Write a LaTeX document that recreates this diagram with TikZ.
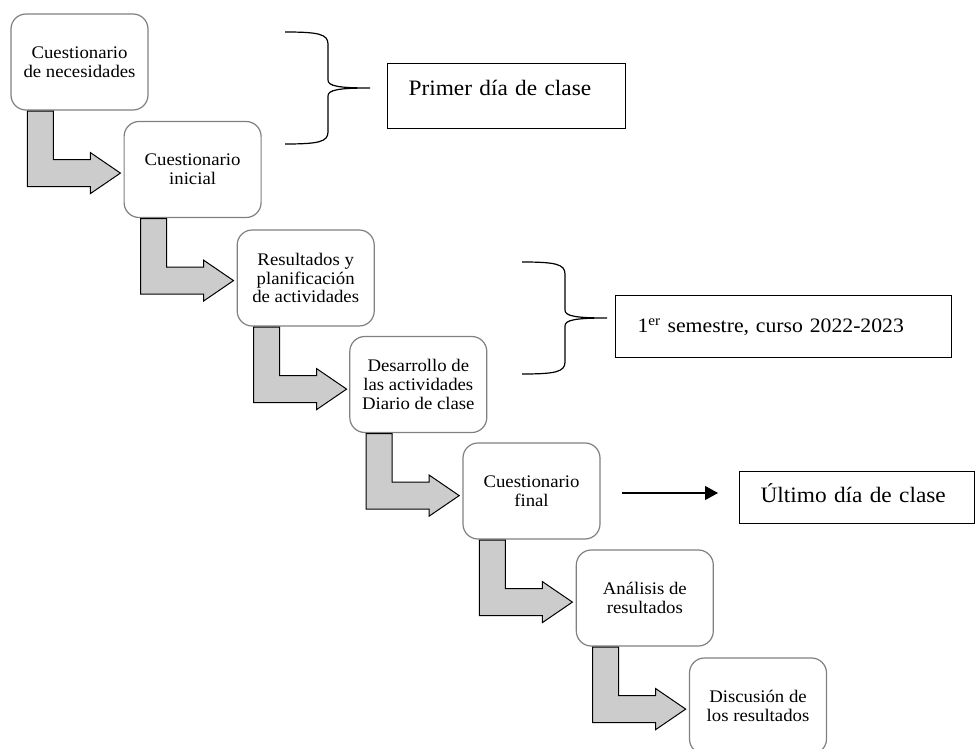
\documentclass[tikz,border=0pt]{standalone}
\usepackage{fontspec}
\setmainfont{Liberation Serif}[FakeStretch=1.06]
\usetikzlibrary{arrows.meta,calc}
\definecolor{boxline}{RGB}{128,128,128}
\definecolor{arrowfill}{RGB}{204,204,204}

% bent block arrow hanging from the bottom-left of a step box
\newcommand\bentarrow[1]{%
  \draw[bent] ($(#1.south west)+(17,0.5)$) -- ++(26,0) -- ++(0,48.5) -- ++(37,0)
    -- ++(0,-7) -- ++(30,20.5) -- ++(-30,20.5) -- ++(0,-7) -- ++(-63,0) -- cycle;}

% curly bracket opening to the right; top end at (0,0) of the current frame
\newcommand\curlybracket{%
  \draw[bracket] (0,0) .. controls (33,0) and (43,2) .. (43,12) -- (43,48)
    .. controls (43,54) and (53,56) .. (85,56)
    .. controls (53,56) and (43,58) .. (43,64) -- (43,100)
    .. controls (43,110) and (33,112) .. (0,112);}

\begin{document}
\begin{tikzpicture}[x=1pt,y=-1pt,
  stepbox/.style={draw=boxline, line width=1.2pt, fill=white, rounded corners=15pt,
    minimum width=137pt, minimum height=96pt, align=center, inner sep=0pt,
    font=\fontsize{17.7}{18.6}\selectfont},
  labelbox/.style={draw=black, line width=1.2pt, anchor=north west, align=left,
    inner ysep=0pt},
  bent/.style={draw=black, line width=1pt, fill=arrowfill, line join=miter},
  bracket/.style={draw=black, line width=1.2pt},
  pointer/.style={draw=black, line width=1.2pt, -{Triangle[length=13pt,width=14pt]}},
]
\useasboundingbox (0,0) rectangle (975,749);

% process steps
\node[stepbox] (s1) at (79.5,62)    {Cuestionario\\de necesidades};
\node[stepbox] (s2) at (192.6,169.5) {Cuestionario\\inicial};
\node[stepbox] (s3) at (305.7,278)  {Resultados y\\planificación\\de actividades};
\node[stepbox] (s4) at (418.3,384.5) {Desarrollo de\\las actividades\\Diario de clase};
\node[stepbox] (s5) at (531.5,491)  {Cuestionario\\final};
\node[stepbox] (s6) at (644.8,598)  {Análisis de\\resultados};
\node[stepbox] (s7) at (758,706)    {Discusión de\\los resultados};

% block arrows between consecutive steps
\bentarrow{s1}
\bentarrow{s2}
\bentarrow{s3}
\bentarrow{s4}
\bentarrow{s5}
\bentarrow{s6}

% time labels
\node[labelbox, inner xsep=21pt, text width=196pt, text height=32pt, text depth=33pt,
  font=\fontsize{22}{26}\selectfont] (t1) at (387,63) {Primer día de clase};
\node[labelbox, inner xsep=22pt, text width=292pt, text height=37pt, text depth=25pt,
  font=\fontsize{20.5}{24}\selectfont] (t2) at (615,295)
  {1\textsuperscript{er} semestre, curso 2022-2023};
\node[labelbox, inner xsep=21pt, text width=192.5pt, text height=31pt, text depth=21pt,
  font=\fontsize{22}{26}\selectfont] (t3) at (739,471) {Último día de clase};

% brackets grouping steps
\begin{scope}[shift={(285,32)}]
  \curlybracket
\end{scope}
\begin{scope}[shift={(522,262)}]
  \curlybracket
\end{scope}

% pointer to the last label
\coordinate (pa) at (622,493);
\coordinate (pb) at (718,493);
\draw[pointer] (pa) -- (pb);
\end{tikzpicture}
\end{document}
